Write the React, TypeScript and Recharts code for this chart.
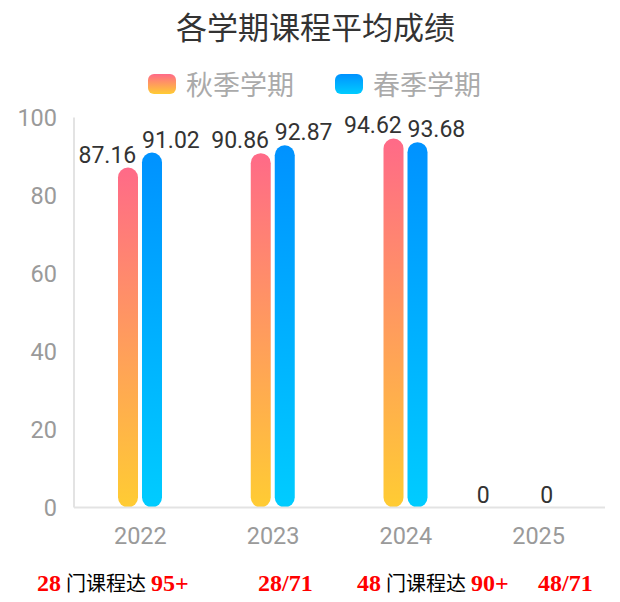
import React from 'react';
import { BarChart, Bar, XAxis, YAxis, Rectangle } from 'recharts';

const years = ['2022', '2023', '2024', '2025'];
const autumnScores = [87.16, 90.86, 94.62, 0];
const springScores = [91.02, 92.87, 93.68, 0];
const yTicks = [0, 20, 40, 60, 80, 100];
const seriesNames = ['秋季学期', '春季学期'];
const chartTitle = '各学期课程平均成绩';
const noteTexts = [
  [{ t: '28', em: true }, { t: ' 门课程达 ', em: false }, { t: '95+', em: true }],
  [{ t: '28/71', em: true }],
  [{ t: '48', em: true }, { t: ' 门课程达 ', em: false }, { t: '90+', em: true }],
  [{ t: '48/71', em: true }],
];

const noteLefts = [37, 258, 357, 538];
const legendLefts = [148, 335];

const data = years.map((y, i) => ({ year: y, autumn: autumnScores[i], spring: springScores[i] }));

const numFont = 'Roboto, "Noto Sans CJK SC", sans-serif';
const cjkFont = '"Noto Sans CJK SC", Roboto, sans-serif';

const makeShape = (dx: number, fill: string) => (props: any) => {
  const { x, y, width, height, value } = props;
  const v = Array.isArray(value) ? value[1] - value[0] : value;
  const nx = Number(x);
  const ny = Number(y);
  return (
    <g>
      {Number(height) > 0 && (
        <Rectangle x={nx} y={ny} width={Number(width)} height={Number(height)} radius={10} fill={fill} />
      )}
      <text
        x={nx + dx}
        y={ny - 12.5}
        textAnchor="start"
        dominantBaseline="central"
        fontSize={23}
        fill="#333"
        fontFamily={numFont}
      >
        {v}
      </text>
    </g>
  );
};

export default function App() {
  return (
    <div style={{ position: 'absolute', left: 0, top: 0, width: 620, height: 602, background: '#fff', overflow: 'hidden' }}>
      <BarChart
        width={620}
        height={602}
        data={data}
        margin={{ top: 117.5, right: 15, left: 0, bottom: 0 }}
        barSize={20}
        barGap={4}
      >
        <defs>
          <linearGradient id="gradAutumn" x1="0" y1="0" x2="0" y2="1">
            <stop offset="0%" stopColor="#FF6A88" />
            <stop offset="100%" stopColor="#FFCC33" />
          </linearGradient>
          <linearGradient id="gradSpring" x1="0" y1="0" x2="0" y2="1">
            <stop offset="0%" stopColor="#0092FF" />
            <stop offset="100%" stopColor="#00CCFF" />
          </linearGradient>
        </defs>
        <XAxis
          dataKey="year"
          height={94.5}
          axisLine={{ stroke: '#e3e3e3', strokeWidth: 2 }}
          tickLine={false}
          tickMargin={13.5}
          tick={{ fill: '#9a9a9a', fontSize: 23.5, fontFamily: numFont }}
        />
        <YAxis
          width={74}
          domain={[0, 100]}
          ticks={yTicks}
          axisLine={{ stroke: '#e3e3e3', strokeWidth: 2 }}
          tickLine={false}
          tickMargin={11}
          tick={{ fill: '#9a9a9a', fontSize: 23.5, fontFamily: numFont }}
        />
        <Bar
          dataKey="autumn"
          name={seriesNames[0]}
          fill="url(#gradAutumn)"
          shape={makeShape(-39.5, 'url(#gradAutumn)')}
          isAnimationActive={false}
        />
        <Bar
          dataKey="spring"
          name={seriesNames[1]}
          fill="url(#gradSpring)"
          shape={makeShape(0, 'url(#gradSpring)')}
          isAnimationActive={false}
        />
      </BarChart>

      <div
        style={{
          position: 'absolute',
          left: 0,
          width: 631,
          top: 5.5,
          textAlign: 'center',
          fontSize: 31,
          lineHeight: '40px',
          color: '#333',
          fontFamily: cjkFont,
        }}
      >
        {chartTitle}
      </div>

      {seriesNames.map((name, i) => (
        <div key={name} style={{ position: 'absolute', left: legendLefts[i], top: 65, height: 38, display: 'flex', alignItems: 'center' }}>
          <svg width={28} height={20} style={{ display: 'block' }}>
            <defs>
              <linearGradient id={`lg${i}`} x1="0" y1="0" x2="0" y2="1">
                <stop offset="0%" stopColor={i === 0 ? '#FF6A88' : '#0092FF'} />
                <stop offset="100%" stopColor={i === 0 ? '#FFCC33' : '#00CCFF'} />
              </linearGradient>
            </defs>
            <rect x={0} y={0} width={28} height={20} rx={6} fill={`url(#lg${i})`} />
          </svg>
          <span style={{ marginLeft: 10, fontSize: 27, color: '#aaa', fontFamily: cjkFont, lineHeight: '38px' }}>{name}</span>
        </div>
      ))}

      {noteTexts.map((parts, i) => (
        <div
          key={i}
          style={{
            position: 'absolute',
            left: noteLefts[i],
            top: 568,
            height: 30,
            lineHeight: '30px',
            whiteSpace: 'pre',
            fontFamily: '"Liberation Serif", "Noto Sans CJK SC", serif',
          }}
        >
          {parts.map((p, j) => (
            <span key={j} style={{ color: p.em ? '#ff0000' : '#000', fontWeight: p.em ? 'bold' : 'normal', fontSize: p.em ? 24 : 20 }}>
              {p.t}
            </span>
          ))}
        </div>
      ))}
    </div>
  );
}
